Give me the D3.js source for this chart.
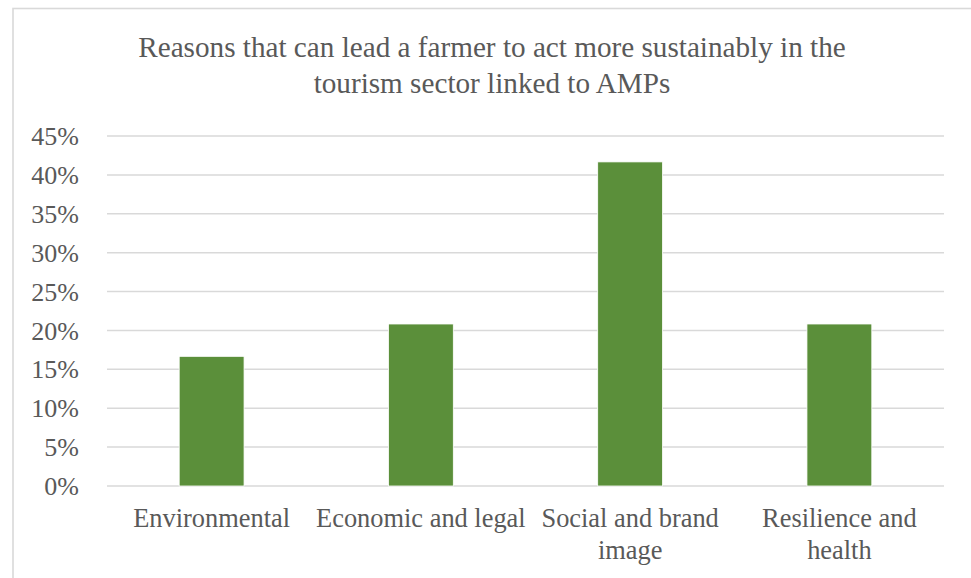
<!DOCTYPE html>
<html>
<head>
<meta charset="utf-8">
<script src="https://cdn.jsdelivr.net/npm/d3@7"></script>
<style>
  html, body { margin: 0; padding: 0; background: #fff; }
  svg { display: block; }
</style>
</head>
<body>
<svg id="chart" width="971" height="578"></svg>
<script>
const titleLines = ["Reasons that can lead a farmer to act more sustainably in the", "tourism sector linked to AMPs"];
const categories = ["Environmental", "Economic and legal", "Social and brand\nimage", "Resilience and\nhealth"];
const values = [0.1667, 0.2083, 0.4167, 0.2083];
const yTicks = [0, 0.05, 0.10, 0.15, 0.20, 0.25, 0.30, 0.35, 0.40, 0.45];

const W = 971, H = 578;
const margin = { left: 107, right: 971 - 944, top: 136, bottom: 578 - 486 };
const FONT = '"Liberation Serif", "Times New Roman", serif';
const textColor = "#595959";

const svg = d3.select("#chart");

// frame
svg.append("rect").attr("x", 13).attr("y", 8.5).attr("width", W + 10).attr("height", H + 10)
  .attr("fill", "#fff").attr("stroke", "#d9d9d9").attr("stroke-width", 1.6);

const x = d3.scaleBand().domain(categories).range([margin.left, W - margin.right]).paddingInner(0.69).paddingOuter(0.345);
const y = d3.scaleLinear().domain([0, 0.45]).range([H - margin.bottom, margin.top]);

// gridlines
svg.append("g").selectAll("line").data(yTicks).join("line")
  .attr("x1", margin.left).attr("x2", W - margin.right)
  .attr("y1", d => y(d)).attr("y2", d => y(d))
  .attr("stroke", "#d9d9d9").attr("stroke-width", 1.5);

// bars
svg.append("g").selectAll("rect").data(values).join("rect")
  .attr("x", (d, i) => x(categories[i]))
  .attr("width", x.bandwidth())
  .attr("y", d => y(d))
  .attr("height", d => y(0) - y(d))
  .attr("fill", "#5B8F3A")
  .attr("stroke", "#ffffff").attr("stroke-width", 0.8);

// y axis
const yAxis = d3.axisLeft(y).tickValues(yTicks).tickFormat(d3.format(".0%")).tickSize(0).tickPadding(0);
const gy = svg.append("g").attr("transform", "translate(79,0)").call(yAxis);
gy.select(".domain").remove();
gy.selectAll("text").style("font-family", FONT).attr("font-size", 26).attr("fill", textColor).attr("dy", "0.33em");

// x axis
const xAxis = d3.axisBottom(x).tickSize(0).tickFormat("");
const gx = svg.append("g").attr("transform", `translate(0,${y(0)})`).call(xAxis);
gx.select(".domain").remove();
gx.selectAll(".tick").each(function(d) {
  const lines = d.split("\n");
  const t = d3.select(this).append("text")
    .attr("text-anchor", "middle").style("font-family", FONT).attr("font-size", 26.4)
    .attr("fill", textColor);
  lines.forEach((ln, i) => t.append("tspan").attr("x", 0).attr("y", 41 + i * 31.5).text(ln));
});

// title
const title = svg.append("text").attr("text-anchor", "middle")
  .style("font-family", FONT).attr("font-size", 29.2).attr("fill", textColor);
titleLines.forEach((ln, i) => title.append("tspan").attr("x", 492).attr("y", 57 + i * 36).text(ln));
</script>
</body>
</html>
